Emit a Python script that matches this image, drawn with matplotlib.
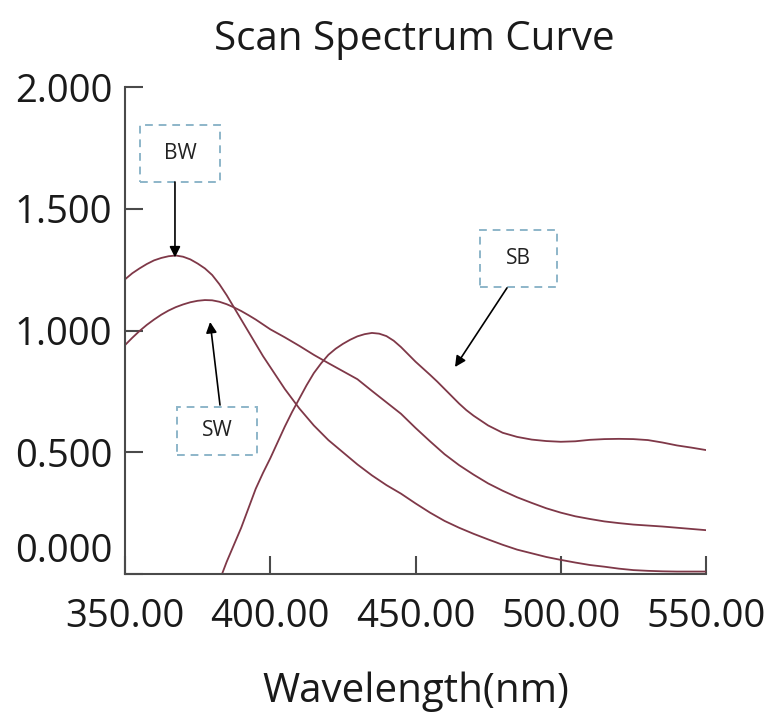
import numpy as np
import matplotlib.pyplot as plt
from matplotlib.patches import Rectangle
from matplotlib.transforms import ScaledTranslation

plt.rcParams['font.family'] = ['Open Sans', 'DejaVu Sans']

# --- Data ---
bw_wl = [350, 352.5, 355, 357.5, 360, 362.5, 365, 367.5, 370, 372.5, 375, 377.5,
         380, 382.5, 385, 387.5, 390, 392.5, 395, 397.5, 400, 405, 410, 415, 420,
         425, 430, 435, 440, 445, 450, 455, 460, 465, 470, 475, 480, 485, 490, 495,
         500, 505, 510, 515, 520, 525, 530, 535, 540, 545, 550]
bw = [1.21, 1.235, 1.255, 1.273, 1.288, 1.298, 1.305, 1.308, 1.303, 1.292, 1.275,
      1.255, 1.228, 1.19, 1.145, 1.095, 1.045, 0.995, 0.945, 0.895, 0.85,
      0.76, 0.68, 0.61, 0.55, 0.50, 0.45, 0.405, 0.365, 0.33, 0.29, 0.252,
      0.218, 0.19, 0.165, 0.142, 0.12, 0.10, 0.085, 0.07, 0.058, 0.047, 0.037,
      0.03, 0.022, 0.016, 0.013, 0.011, 0.01, 0.01, 0.01]

sw_wl = [350, 352.5, 355, 357.5, 360, 362.5, 365, 367.5, 370, 372.5, 375, 377.5,
         380, 382.5, 385, 387.5, 390, 392.5, 395, 397.5, 400, 405, 410, 415, 420,
         425, 430, 435, 440, 445, 450, 455, 460, 465, 470, 475, 480, 485, 490, 495,
         500, 505, 510, 515, 520, 525, 530, 535, 540, 545, 550]
sw = [0.94, 0.97, 0.998, 1.023, 1.045, 1.065, 1.082, 1.096, 1.107, 1.116, 1.122,
      1.125, 1.124, 1.118, 1.108, 1.095, 1.08, 1.063, 1.045, 1.025, 1.005,
      0.972, 0.937, 0.90, 0.866, 0.833, 0.80, 0.752, 0.705, 0.658, 0.60, 0.545,
      0.492, 0.447, 0.408, 0.372, 0.342, 0.315, 0.292, 0.27, 0.252, 0.237, 0.226,
      0.216, 0.209, 0.203, 0.199, 0.195, 0.19, 0.185, 0.18]

sb_wl = [383.4, 385, 387.5, 390, 392.5, 395, 397.5, 400, 402.5, 405, 407.5, 410,
         412.5, 415, 417.5, 420, 422.5, 425, 427.5, 430, 432.5, 435, 437.5, 440,
         442.5, 445, 447.5, 450, 452.5, 455, 457.5, 460, 462.5, 465, 467.5, 470,
         475, 480, 485, 490, 495, 500, 505, 510, 515, 520, 525, 530, 535, 540,
         545, 550]
sb = [0.0, 0.05, 0.12, 0.19, 0.27, 0.35, 0.415, 0.475, 0.54, 0.605, 0.665, 0.72,
      0.775, 0.825, 0.865, 0.90, 0.925, 0.945, 0.962, 0.976, 0.985, 0.99, 0.987,
      0.977, 0.958, 0.932, 0.902, 0.872, 0.845, 0.818, 0.79, 0.76, 0.73, 0.70,
      0.673, 0.65, 0.61, 0.58, 0.563, 0.552, 0.546, 0.543, 0.545, 0.551, 0.554,
      0.555, 0.554, 0.55, 0.54, 0.528, 0.519, 0.509]

xticks = [350, 400, 450, 500, 550]
yticks = [0.0, 0.5, 1.0, 1.5, 2.0]

# label boxes: (text, box x0, box x1, box y0, box y1, arrow tail, arrow head)
labels = [
    ("BW", 355.2, 382.7, 1.610, 1.844, (367.2, 1.61), (367.2, 1.30)),
    ("SW", 367.9, 395.4, 0.489, 0.686, (382.7, 0.694), (379.3, 1.035)),
    ("SB", 472.2, 498.7, 1.179, 1.413, (481.5, 1.175), (463.6, 0.85)),
]

line_color = '#7f3848'
axis_color = '#4a4a4a'

fig = plt.figure(figsize=(7.71, 7.14), dpi=100)
ax = fig.add_axes([125 / 771, 1 - 574 / 714, 581 / 771, 487 / 714])

ax.plot(bw_wl, bw, color=line_color, lw=1.3)
ax.plot(sw_wl, sw, color=line_color, lw=1.3)
ax.plot(sb_wl, sb, color=line_color, lw=1.3)

ax.set_xlim(350, 550)
ax.set_ylim(0, 2.0)
ax.set_xticks(xticks)
ax.set_xticklabels([f"{v:.2f}" for v in xticks])
ax.set_yticks(yticks)
ax.set_yticklabels([f"{v:.3f}" for v in yticks])

for s in ['top', 'right']:
    ax.spines[s].set_visible(False)
for s in ['left', 'bottom']:
    ax.spines[s].set_color(axis_color)
    ax.spines[s].set_linewidth(1.5)

ax.tick_params(axis='both', direction='in', length=13, width=1.5,
               color=axis_color, labelsize=27.5, labelcolor='#1a1a1a')
ax.tick_params(axis='y', pad=9)
ax.tick_params(axis='x', pad=17)

# 0.000 label sits above the axis line in the reference
ylab0 = ax.get_yticklabels()[0]
ylab0.set_transform(ylab0.get_transform() + ScaledTranslation(0, 0.26, fig.dpi_scale_trans))

ax.set_xlabel("Wavelength(nm)", fontsize=29, color='#1a1a1a', labelpad=26)
fig.text(0.5375, 1 - 40 / 714, "Scan Spectrum Curve", fontsize=29,
         ha='center', va='center', color='#1a1a1a')

for name, x0, x1, y0, y1, tail, head in labels:
    ax.add_patch(Rectangle((x0, y0), x1 - x0, y1 - y0, fill=True, facecolor='white',
                           edgecolor='#8db6c9', lw=1.4, ls=(0, (4, 3)), zorder=3))
    ax.text((x0 + x1) / 2, (y0 + y1) / 2, name, fontsize=15, ha='center',
            va='center', color='#222222', zorder=4)
    ax.annotate("", xy=head, xytext=tail,
                arrowprops=dict(arrowstyle='-|>', color='black', lw=1.2,
                                mutation_scale=16, shrinkA=0, shrinkB=0),
                zorder=4)

fig.savefig("out.png", dpi=100)
